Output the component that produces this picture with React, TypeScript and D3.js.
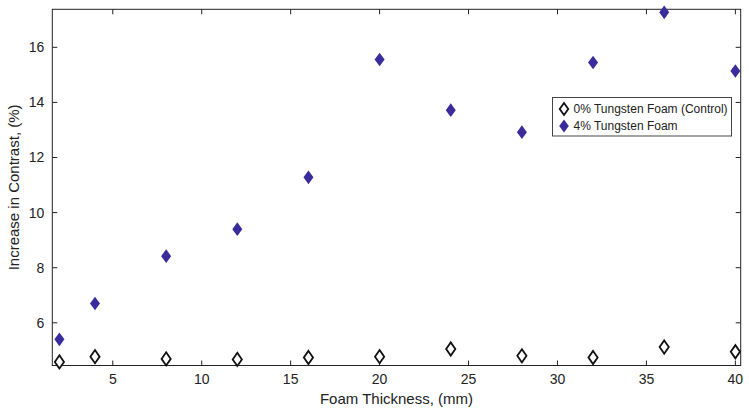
import React from 'react';
import * as d3 from 'd3';

const thickness = [2, 4, 8, 12, 16, 20, 24, 28, 32, 36, 40];
const controlFoam = [4.58, 4.77, 4.69, 4.67, 4.74, 4.77, 5.05, 4.8, 4.74, 5.12, 4.95];
const tungstenFoam = [5.4, 6.7, 8.42, 9.4, 11.28, 15.56, 13.72, 12.92, 15.45, 17.27, 15.14];
const xTicks = [5, 10, 15, 20, 25, 30, 35, 40];
const yTicks = [6, 8, 10, 12, 14, 16];
const legendLabels = ['0% Tungsten Foam (Control)', '4% Tungsten Foam'];

const W = 749;
const H = 415;
const margin = { top: 9.3, right: 8.3, bottom: 49.5, left: 52.3 };
const FONT = '"Liberation Sans", Arial, Helvetica, sans-serif';
const BLUE = '#3b2c9b';

const diamond = (hw: number, hh: number) => `M0,${-hh}L${hw},0L0,${hh}L${-hw},0Z`;

export default function App() {
  const x = d3
    .scaleLinear()
    .domain([1.6, 40.3])
    .range([margin.left, W - margin.right]);
  const y = d3
    .scaleLinear()
    .domain([4.45, 17.38])
    .range([H - margin.bottom, margin.top]);

  const [x0, x1] = x.range();
  const [y0, y1] = y.range();
  const tk = 5;

  return (
    <svg
      width={W}
      height={H}
      style={{ position: 'absolute', left: 0, top: 0, background: '#fff' }}
      fontFamily={FONT}
    >
      {/* box */}
      <rect x={x0} y={y1} width={x1 - x0} height={y0 - y1} fill="none" stroke="#222" strokeWidth={1} />

      {/* x ticks, bottom and top */}
      {xTicks.map(t => (
        <g key={'x' + t}>
          <line x1={x(t)} x2={x(t)} y1={y0} y2={y0 - tk} stroke="#222" />
          <line x1={x(t)} x2={x(t)} y1={y1} y2={y1 + tk} stroke="#222" />
          <text x={x(t)} y={y0 + 18} textAnchor="middle" fontSize={14} fill="#222">
            {t}
          </text>
        </g>
      ))}

      {/* y ticks, left and right */}
      {yTicks.map(t => (
        <g key={'y' + t}>
          <line x1={x0} x2={x0 + tk} y1={y(t)} y2={y(t)} stroke="#222" />
          <line x1={x1} x2={x1 - tk} y1={y(t)} y2={y(t)} stroke="#222" />
          <text x={x0 - 8} y={y(t)} dy="0.35em" textAnchor="end" fontSize={14} fill="#222">
            {t}
          </text>
        </g>
      ))}

      {/* axis labels */}
      <text x={(x0 + x1) / 2} y={H - 11} textAnchor="middle" fontSize={15} fill="#222">
        Foam Thickness, (mm)
      </text>
      <text
        transform={`translate(19,${(y0 + y1) / 2}) rotate(-90)`}
        textAnchor="middle"
        fontSize={15}
        fill="#222"
      >
        Increase in Contrast, (%)
      </text>

      {/* control series */}
      {thickness.map((t, i) => (
        <path
          key={'c' + t}
          d={diamond(4.6, 6.6)}
          transform={`translate(${x(t)},${y(controlFoam[i])})`}
          fill="#fff"
          stroke="#111"
          strokeWidth={1.8}
        />
      ))}

      {/* tungsten series */}
      {thickness.map((t, i) => (
        <path
          key={'w' + t}
          d={diamond(5, 6.8)}
          transform={`translate(${x(t)},${y(tungstenFoam[i])})`}
          fill={BLUE}
        />
      ))}

      {/* legend */}
      <g transform="translate(552.5,97.5)">
        <rect width={179} height={38.5} fill="#fff" stroke="#444" strokeWidth={1} />
        <path d={diamond(4.3, 6)} transform="translate(11.5,11.5)" fill="#fff" stroke="#111" strokeWidth={1.8} />
        <text x={21} y={11.5} dy="0.35em" fontSize={12} fill="#222">
          {legendLabels[0]}
        </text>
        <path d={diamond(4.8, 6.5)} transform="translate(11.5,28.5)" fill={BLUE} />
        <text x={21} y={28.5} dy="0.35em" fontSize={12} fill="#222">
          {legendLabels[1]}
        </text>
      </g>
    </svg>
  );
}
